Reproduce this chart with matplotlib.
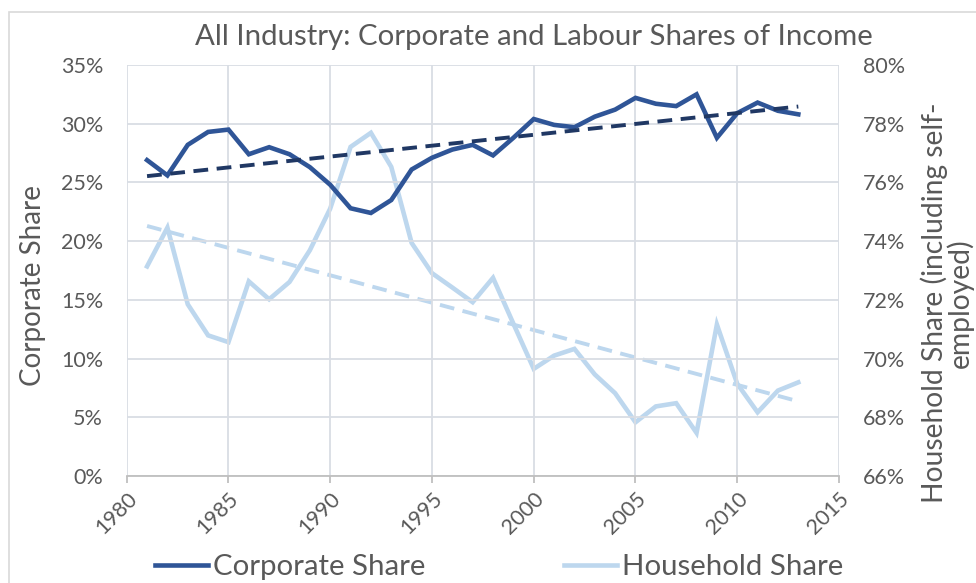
import numpy as np
import matplotlib
matplotlib.use("Agg")
import matplotlib.pyplot as plt
from matplotlib.patches import Rectangle
from matplotlib.ticker import FuncFormatter

plt.rcParams['font.family'] = ['Lato', 'DejaVu Sans']

years = list(range(1981, 2014))
corporate = [26.9, 25.6, 28.2, 29.3, 29.5, 27.4, 28.0, 27.4, 26.3, 24.8,
             22.8, 22.4, 23.5, 26.1, 27.1, 27.8, 28.2, 27.3, 28.8, 30.4,
             29.9, 29.7, 30.6, 31.2, 32.2, 31.7, 31.5, 32.5, 28.8, 30.9,
             31.8, 31.1, 30.8]
household = [73.14, 74.46, 71.85, 70.79, 70.56, 72.63, 72.02, 72.61, 73.69, 75.11,
             77.21, 77.69, 76.53, 73.94, 72.91, 72.42, 71.92, 72.75, 71.19, 69.65,
             70.10, 70.33, 69.46, 68.82, 67.83, 68.37, 68.48, 67.47, 71.16, 69.14,
             68.17, 68.91, 69.19]
x_ticks = [1980, 1985, 1990, 1995, 2000, 2005, 2010, 2015]
left_ticks = [0, 5, 10, 15, 20, 25, 30, 35]
right_ticks = [66, 68, 70, 72, 74, 76, 78, 80]

title = "All Industry: Corporate and Labour Shares of Income"
left_label = "Corporate Share"
right_label = "Household Share (including self-\nemployed)"

TXT = '#595959'
GRID = '#D9DDE4'
AXL = '#BFBFBF'
C_CORP = '#2F5597'
C_CORP_T = '#203864'
C_HH = '#BDD7EE'

W, H = 976, 583
fig = plt.figure(figsize=(W / 100, H / 100), dpi=100)
fig.patch.set_facecolor('white')

# chart area border
fig.patches.append(Rectangle((9 / W, -0.1), 1.2, 1 - 12 / H + 0.1, transform=fig.transFigure,
                             fill=False, edgecolor='#D9D9D9', linewidth=1.2))

L, R, T, B = 126.7, 839.0, 65.0, 476.0
ax = fig.add_axes([L / W, 1 - B / H, (R - L) / W, (B - T) / H])
ax2 = ax.twinx()

yrs = np.array(years, dtype=float)
c = np.array(corporate)
h = np.array(household)
pc = np.polyfit(yrs, c, 1)
ph = np.polyfit(yrs, h, 1)

ax.plot(yrs, c, color=C_CORP, lw=3.3, solid_joinstyle='miter', zorder=4)
ax.plot(yrs, np.polyval(pc, yrs), color=C_CORP_T, lw=2.8, ls=(0, (3.8, 2.2)), zorder=5)
ax2.plot(yrs, h, color=C_HH, lw=3.3, solid_joinstyle='miter', zorder=3)
ax2.plot(yrs, np.polyval(ph, yrs), color=C_HH, lw=2.8, ls=(0, (3.8, 2.2)), zorder=3)

ax.set_xlim(1980, 2015)
ax.set_ylim(0, 35)
ax2.set_ylim(66, 80)
ax.set_xticks(x_ticks)
ax.set_yticks(left_ticks)
ax2.set_yticks(right_ticks)
ax.yaxis.set_major_formatter(FuncFormatter(lambda v, p: f"{v:.0f}%"))
ax2.yaxis.set_major_formatter(FuncFormatter(lambda v, p: f"{v:.0f}%"))

ax.grid(True, color=GRID, lw=1.3)
ax.set_axisbelow(True)
ax.set_zorder(ax2.get_zorder() + 1)
ax.patch.set_visible(False)

for a in (ax, ax2):
    for s in ['top', 'left', 'right', 'bottom']:
        a.spines[s].set_visible(False)
ax.spines['bottom'].set_visible(True)
ax.spines['bottom'].set_color(AXL)
ax.spines['bottom'].set_linewidth(1.3)

ax.tick_params(axis='x', direction='out', length=5, width=1.3, color=AXL,
               labelsize=15.5, labelcolor=TXT, pad=4)
for lab in ax.get_xticklabels():
    lab.set_rotation(45)
    lab.set_ha('right')
    lab.set_va('top')
    lab.set_rotation_mode('anchor')
ax.tick_params(axis='y', length=0, labelsize=15.5, labelcolor=TXT, pad=17)
ax2.tick_params(axis='y', length=0, labelsize=15.5, labelcolor=TXT, pad=17)

fig.text(534 / W, 1 - 37 / H, title, ha='center', va='center', fontsize=21.2, color=TXT)
fig.text(33 / W, 1 - 285 / H, left_label, ha='center', va='center', rotation=90,
         fontsize=20.0, color=TXT)
fig.text(947 / W, 1 - 303 / H, right_label, ha='center', va='center', rotation=90,
         fontsize=20.3, color=TXT, multialignment='center', linespacing=0.92)

leg = fig.legend(handles=[ax.lines[0], ax2.lines[0]], labels=['Corporate Share', 'Household Share'],
                 loc='center left', bbox_to_anchor=(155 / W, 1 - 567 / H), ncol=2, frameon=False,
                 fontsize=21.2, handlelength=1.8, handletextpad=0.18, columnspacing=4.7,
                 labelcolor=TXT, borderaxespad=0, borderpad=0)

fig.savefig('out.png', dpi=100, facecolor='white')
